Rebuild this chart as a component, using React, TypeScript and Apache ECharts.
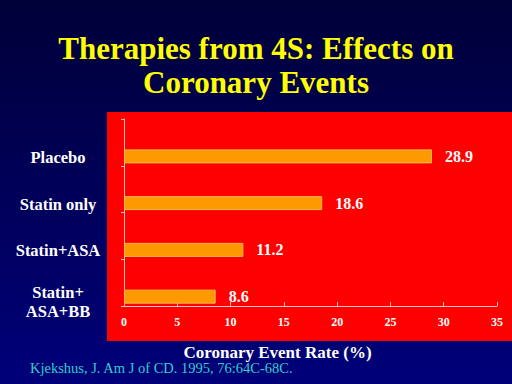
import React, { useEffect, useRef } from "react";
import * as echarts from "echarts";

const titleLines = ["Therapies from 4S: Effects on", "Coronary Events"];
const categories = ["Placebo", "Statin only", "Statin+ASA", "Statin+\nASA+BB"];
const rates = [28.9, 18.6, 11.2, 8.6];
const xTicks = [0, 5, 10, 15, 20, 25, 30, 35];
const xAxisName = "Coronary Event Rate (%)";
const citation = "Kjekshus, J. Am J of CD. 1995, 76:64C-68C.";

const SERIF = "Liberation Serif";

export default function App() {
  const ref = useRef<HTMLDivElement>(null);
  useEffect(() => {
    document.body.style.margin = "0";
    const chart = echarts.init(ref.current!, null, { renderer: "svg" });
    const cats = [...categories].reverse();
    const vals = [...rates].reverse();
    chart.setOption({
      animation: false,
      backgroundColor: new echarts.graphic.LinearGradient(0, 0, 0, 1, [
        { offset: 0, color: "#000038" },
        { offset: 1, color: "#00007a" },
      ]),
      title: {
        text: titleLines.join("\n"),
        left: "center",
        top: 26,
        textStyle: {
          color: "#ffff00",
          fontFamily: SERIF,
          fontWeight: "bold",
          fontSize: 31,
          lineHeight: 34,
        },
      },
      graphic: [
        {
          type: "rect",
          z: -10,
          shape: { x: 107, y: 112, width: 405, height: 229 },
          style: { fill: "#ff0000" },
        },
        {
          type: "text",
          x: 30,
          y: 368,
          style: {
            text: citation,
            fill: "#33cccc",
            fontFamily: SERIF,
            fontSize: 14.5,
            verticalAlign: "middle",
          },
        },
      ],
      grid: { left: 124, right: 15, top: 119, bottom: 78, containLabel: false },
      xAxis: {
        type: "value",
        min: 0,
        max: 35,
        interval: 5,
        name: xAxisName,
        nameLocation: "middle",
        nameGap: 38,
        nameTextStyle: {
          color: "#ffffff",
          fontFamily: SERIF,
          fontWeight: "bold",
          fontSize: 17,
          padding: [0, 66, 0, 0],
        },
        axisLine: { show: true, lineStyle: { color: "#ffc0c0", width: 1 } },
        axisTick: { show: true, inside: true, length: 4, lineStyle: { color: "#ffc0c0" } },
        splitLine: { show: false },
        axisLabel: {
          color: "#ffffff",
          fontFamily: SERIF,
          fontWeight: "bold",
          fontSize: 12,
          margin: 10,
          formatter: (v: number) => (xTicks.includes(v) ? String(v) : ""),
        },
      },
      yAxis: {
        type: "category",
        data: cats,
        axisLine: { show: true, lineStyle: { color: "#ffc0c0", width: 1 } },
        axisTick: { show: true, length: 3, lineStyle: { color: "#ffc0c0" } },
        axisLabel: {
          interval: 0,
          align: "center",
          verticalAlign: "top",
          margin: 66,
          fontFamily: SERIF,
          formatter: (v: string) =>
            v.includes("\n")
              ? v.split("\n").map((s) => `{b|${s}}`).join("\n")
              : `{a|${v}}`,
          rich: {
            a: {
              color: "#ffffff",
              fontFamily: SERIF,
              fontWeight: "bold",
              fontSize: 16.5,
              lineHeight: 30,
            },
            b: {
              color: "#ffffff",
              fontFamily: SERIF,
              fontWeight: "bold",
              fontSize: 16.5,
              lineHeight: 19,
            },
          },
        },
      },
      series: [
        {
          type: "bar",
          data: cats.map(() => null),
          barWidth: 14,
          barGap: "100%",
          silent: true,
        },
        {
          type: "bar",
          data: vals,
          barWidth: 14,
          barGap: "100%",
          itemStyle: { color: "#ff9900", borderColor: "#ffb84d", borderWidth: 1 },
          label: {
            show: true,
            position: "right",
            distance: 13,
            color: "#ffffff",
            fontFamily: SERIF,
            fontWeight: "bold",
            fontSize: 16,
            formatter: (p: any) => p.value.toFixed(1),
          },
        },
      ],
    });
    return () => chart.dispose();
  }, []);
  return <div ref={ref} style={{ width: 512, height: 384, position: "fixed", left: 0, top: 0 }} />;
}
